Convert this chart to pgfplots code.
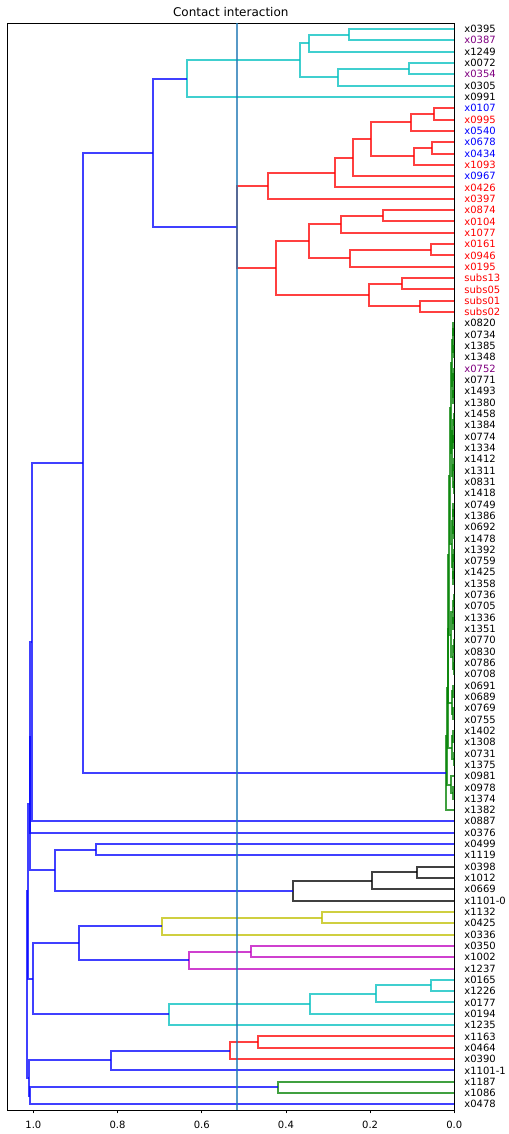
\documentclass[border=0pt]{standalone}
\usepackage{fontspec}
\setmainfont{DejaVu Sans}
\usepackage{pgfplots}
\pgfplotsset{compat=1.18}
\definecolor{dr}{rgb}{1,0,0}
\definecolor{dc}{rgb}{0,0.75,0.75}
\definecolor{dg}{rgb}{0,0.5,0}
\definecolor{db}{rgb}{0,0,1}
\definecolor{dk}{rgb}{0,0,0}
\definecolor{dy}{rgb}{0.75,0.75,0}
\definecolor{dm}{rgb}{0.75,0,0.75}
\definecolor{cz}{RGB}{31,119,180}
\definecolor{lp}{rgb}{0.5,0,0.5}
\begin{document}
\begin{tikzpicture}
\begin{axis}[
  name=ax,
  scale only axis, width=447bp, height=1086.7bp,
  xmin=0, xmax=1.062, x dir=reverse,
  ymin=0, ymax=960,
  axis line style={line width=0.8bp, black},
  tick align=outside, major tick length=3.5bp,
  xtick={0,0.2,0.4,0.6,0.8,1.0},
  xticklabels={0.0,0.2,0.4,0.6,0.8,1.0},
  xtick pos=left,
  xtick style={line width=0.8bp, black},
  xticklabel style={font=\fontsize{10bp}{12bp}\selectfont, anchor=north, inner sep=0pt, yshift=-7.3bp},
  ytick={5,15,...,955},
  ytick pos=right, yticklabel pos=right,
  ytick style={draw=none},
  yticklabel style={font=\fontsize{10bp}{12bp}\selectfont, anchor=west, inner sep=0pt, xshift=6.4bp},
  yticklabels={x0478,x1086,x1187,x1101-1,x0390,x0464,x1163,x1235,x0194,x0177,x1226,x0165,x1237,x1002,x0350,x0336,x0425,x1132,x1101-0,x0669,x1012,x0398,x1119,x0499,x0376,x0887,x1382,x1374,x0978,x0981,x1375,x0731,x1308,x1402,x0755,x0769,x0689,x0691,x0708,x0786,x0830,x0770,x1351,x1336,x0705,x0736,x1358,x1425,x0759,x1392,x1478,x0692,x1386,x0749,x1418,x0831,x1311,x1412,x1334,x0774,x1384,x1458,x1380,x1493,x0771,{\textcolor{lp}{x0752}},x1348,x1385,x0734,x0820,{\textcolor{red}{subs02}},{\textcolor{red}{subs01}},{\textcolor{red}{subs05}},{\textcolor{red}{subs13}},{\textcolor{red}{x0195}},{\textcolor{red}{x0946}},{\textcolor{red}{x0161}},{\textcolor{red}{x1077}},{\textcolor{red}{x0104}},{\textcolor{red}{x0874}},{\textcolor{red}{x0397}},{\textcolor{red}{x0426}},{\textcolor{blue}{x0967}},{\textcolor{red}{x1093}},{\textcolor{blue}{x0434}},{\textcolor{blue}{x0678}},{\textcolor{blue}{x0540}},{\textcolor{red}{x0995}},{\textcolor{blue}{x0107}},x0991,x0305,{\textcolor{lp}{x0354}},x0072,x1249,{\textcolor{lp}{x0387}},x0395},
  title={Contact interaction},
  every axis title shift=0pt,
  title style={font=\fontsize{12bp}{14bp}\selectfont, at={(0.5,1)}, anchor=base, inner sep=0pt, yshift=6.6bp},
  every axis plot/.append style={no markers, line width=2bp, opacity=0.75},
]
% cyan top cluster
\addplot[dc] coordinates {(0,955) (0.250,955) (0.250,945) (0,945)};
\addplot[dc] coordinates {(0.250,950) (0.345,950) (0.345,935) (0,935)};
\addplot[dc] coordinates {(0,925) (0.108,925) (0.108,915) (0,915)};
\addplot[dc] coordinates {(0.108,920) (0.276,920) (0.276,905) (0,905)};
\addplot[dc] coordinates {(0.345,942.5) (0.367,942.5) (0.367,912.5) (0.276,912.5)};
\addplot[dc] coordinates {(0.367,927.5) (0.635,927.5) (0.635,895) (0,895)};
% red cluster
\addplot[dr] coordinates {(0,885) (0.048,885) (0.048,875) (0,875)};
\addplot[dr] coordinates {(0.048,880) (0.103,880) (0.103,865) (0,865)};
\addplot[dr] coordinates {(0,855) (0.053,855) (0.053,845) (0,845)};
\addplot[dr] coordinates {(0.053,850) (0.096,850) (0.096,835) (0,835)};
\addplot[dr] coordinates {(0.103,872.5) (0.198,872.5) (0.198,842.5) (0.096,842.5)};
\addplot[dr] coordinates {(0.198,857.5) (0.241,857.5) (0.241,825) (0,825)};
\addplot[dr] coordinates {(0.241,841.25) (0.284,841.25) (0.284,815) (0,815)};
\addplot[dr] coordinates {(0.284,828.125) (0.443,828.125) (0.443,805) (0,805)};
\addplot[dr] coordinates {(0,795) (0.170,795) (0.170,785) (0,785)};
\addplot[dr] coordinates {(0.170,790) (0.270,790) (0.270,775) (0,775)};
\addplot[dr] coordinates {(0,765) (0.055,765) (0.055,755) (0,755)};
\addplot[dr] coordinates {(0.055,760) (0.248,760) (0.248,745) (0,745)};
\addplot[dr] coordinates {(0.270,782.5) (0.345,782.5) (0.345,752.5) (0.248,752.5)};
\addplot[dr] coordinates {(0,735) (0.124,735) (0.124,725) (0,725)};
\addplot[dr] coordinates {(0,715) (0.082,715) (0.082,705) (0,705)};
\addplot[dr] coordinates {(0.124,730) (0.203,730) (0.203,710) (0.082,710)};
\addplot[dr] coordinates {(0.345,767.5) (0.424,767.5) (0.424,720) (0.203,720)};
\addplot[dr] coordinates {(0.443,816.5625) (0.516,816.5625) (0.516,743.75) (0.424,743.75)};
\addplot[db] coordinates {(0.635,911.25) (0.717,911.25) (0.717,780.16) (0.516,780.16)};
% green cluster
\addplot[dg] coordinates {(0,695) (0.002,695) (0.002,685) (0,685)};
\addplot[dg] coordinates {(0,675) (0.001,675) (0.001,665) (0,665)};
\addplot[dg] coordinates {(0.002,690) (0.004,690) (0.004,670) (0.001,670)};
\addplot[dg] coordinates {(0,655) (0.0015,655) (0.0015,645) (0,645)};
\addplot[dg] coordinates {(0,635) (0.002,635) (0.002,625) (0,625)};
\addplot[dg] coordinates {(0.0015,650) (0.003,650) (0.003,630) (0.002,630)};
\addplot[dg] coordinates {(0.004,680) (0.006,680) (0.006,640) (0.003,640)};
\addplot[dg] coordinates {(0,615) (0.001,615) (0.001,605) (0,605)};
\addplot[dg] coordinates {(0,595) (0.002,595) (0.002,585) (0,585)};
\addplot[dg] coordinates {(0.001,610) (0.004,610) (0.004,590) (0.002,590)};
\addplot[dg] coordinates {(0,575) (0.0015,575) (0.0015,565) (0,565)};
\addplot[dg] coordinates {(0,555) (0.001,555) (0.001,545) (0,545)};
\addplot[dg] coordinates {(0.0015,570) (0.003,570) (0.003,550) (0.001,550)};
\addplot[dg] coordinates {(0.004,600) (0.005,600) (0.005,560) (0.003,560)};
\addplot[dg] coordinates {(0.006,660) (0.008,660) (0.008,580) (0.005,580)};
\addplot[dg] coordinates {(0,535) (0.002,535) (0.002,525) (0,525)};
\addplot[dg] coordinates {(0,515) (0.001,515) (0.001,505) (0,505)};
\addplot[dg] coordinates {(0.002,530) (0.004,530) (0.004,510) (0.001,510)};
\addplot[dg] coordinates {(0,495) (0.0015,495) (0.0015,485) (0,485)};
\addplot[dg] coordinates {(0,475) (0.002,475) (0.002,465) (0,465)};
\addplot[dg] coordinates {(0.0015,490) (0.0035,490) (0.0035,470) (0.002,470)};
\addplot[dg] coordinates {(0.004,520) (0.006,520) (0.006,480) (0.0035,480)};
\addplot[dg] coordinates {(0.008,620) (0.010,620) (0.010,500) (0.006,500)};
\addplot[dg] coordinates {(0,455) (0.001,455) (0.001,445) (0,445)};
\addplot[dg] coordinates {(0,435) (0.002,435) (0.002,425) (0,425)};
\addplot[dg] coordinates {(0.001,450) (0.003,450) (0.003,430) (0.002,430)};
\addplot[dg] coordinates {(0,415) (0.0015,415) (0.0015,405) (0,405)};
\addplot[dg] coordinates {(0,395) (0.001,395) (0.001,385) (0,385)};
\addplot[dg] coordinates {(0.0015,410) (0.004,410) (0.004,390) (0.001,390)};
\addplot[dg] coordinates {(0.003,440) (0.007,440) (0.007,400) (0.004,400)};
\addplot[dg] coordinates {(0.010,560) (0.012,560) (0.012,420) (0.007,420)};
\addplot[dg] coordinates {(0,375) (0.002,375) (0.002,365) (0,365)};
\addplot[dg] coordinates {(0,355) (0.003,355) (0.003,345) (0,345)};
\addplot[dg] coordinates {(0.002,370) (0.006,370) (0.006,350) (0.003,350)};
\addplot[dg] coordinates {(0.012,490) (0.014,490) (0.014,360) (0.006,360)};
\addplot[dg] coordinates {(0,335) (0.002,335) (0.002,325) (0,325)};
\addplot[dg] coordinates {(0,315) (0.001,315) (0.001,305) (0,305)};
\addplot[dg] coordinates {(0.002,330) (0.005,330) (0.005,310) (0.001,310)};
\addplot[dg] coordinates {(0.014,425) (0.016,425) (0.016,320) (0.005,320)};
\addplot[dg] coordinates {(0,285) (0.004,285) (0.004,275) (0,275)};
\addplot[dg] coordinates {(0,295) (0.008,295) (0.008,280) (0.004,280)};
\addplot[dg] coordinates {(0.016,372.5) (0.0175,372.5) (0.0175,287.5) (0.008,287.5)};
\addplot[dg] coordinates {(0.0175,330) (0.0204,330) (0.0204,265) (0,265)};
% upper blue links
\addplot[db] coordinates {(0.717,845.7) (0.882,845.7) (0.882,297.5) (0.0204,297.5)};
\addplot[db] coordinates {(0.882,571.6) (1.004,571.6) (1.004,255) (0,255)};
\addplot[db] coordinates {(1.004,413.3) (1.0075,413.3) (1.0075,245) (0,245)};
\addplot[db] coordinates {(0,235) (0.8515,235) (0.8515,225) (0,225)};
% black cluster
\addplot[dk] coordinates {(0,215) (0.0894,215) (0.0894,205) (0,205)};
\addplot[dk] coordinates {(0.0894,210) (0.1956,210) (0.1956,195) (0,195)};
\addplot[dk] coordinates {(0.1956,202.5) (0.3833,202.5) (0.3833,185) (0,185)};
\addplot[db] coordinates {(0.8515,230) (0.9497,230) (0.9497,193.75) (0.3833,193.75)};
\addplot[db] coordinates {(1.0075,329.15) (1.009,329.15) (1.009,211.875) (0.9497,211.875)};
% yellow and magenta
\addplot[dy] coordinates {(0,175) (0.315,175) (0.315,165) (0,165)};
\addplot[dy] coordinates {(0.315,170) (0.6954,170) (0.6954,155) (0,155)};
\addplot[dm] coordinates {(0,145) (0.4839,145) (0.4839,135) (0,135)};
\addplot[dm] coordinates {(0.4839,140) (0.6305,140) (0.6305,125) (0,125)};
\addplot[db] coordinates {(0.6954,162.5) (0.8919,162.5) (0.8919,132.5) (0.6305,132.5)};
% lower cyan
\addplot[dc] coordinates {(0,115) (0.0554,115) (0.0554,105) (0,105)};
\addplot[dc] coordinates {(0.0554,110) (0.186,110) (0.186,95) (0,95)};
\addplot[dc] coordinates {(0.186,102.5) (0.343,102.5) (0.343,85) (0,85)};
\addplot[dc] coordinates {(0.343,93.75) (0.678,93.75) (0.678,75) (0,75)};
\addplot[db] coordinates {(0.8919,147.5) (1.002,147.5) (1.002,84.375) (0.678,84.375)};
% lower red
\addplot[dr] coordinates {(0,65) (0.4665,65) (0.4665,55) (0,55)};
\addplot[dr] coordinates {(0.4665,60) (0.5338,60) (0.5338,45) (0,45)};
\addplot[db] coordinates {(0.5338,52.5) (0.8166,52.5) (0.8166,35) (0,35)};
% lower green
\addplot[dg] coordinates {(0,25) (0.4197,25) (0.4197,15) (0,15)};
\addplot[db] coordinates {(0.4197,20) (1.008,20) (1.008,5) (0,5)};
% top-level joins
\addplot[db] coordinates {(1.009,270.51) (1.012,270.51) (1.012,115.94) (1.002,115.94)};
\addplot[db] coordinates {(0.8166,43.75) (1.0105,43.75) (1.0105,12.5) (1.008,12.5)};
\addplot[db] coordinates {(1.012,193.2) (1.0146,193.2) (1.0146,28.125) (1.0105,28.125)};
% threshold line
\addplot[cz] coordinates {(0.517,0) (0.517,960)};
\end{axis}
\pgfresetboundingbox
\path (ax.south west) ++(-7.3bp,-24bp) rectangle ++(509bp,1134bp);
\end{tikzpicture}
\end{document}
